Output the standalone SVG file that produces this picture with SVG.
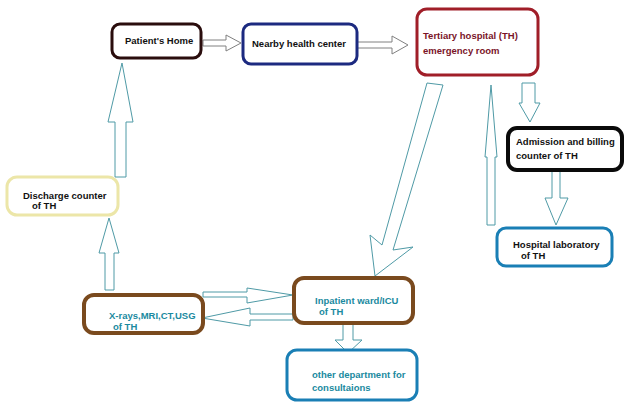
<svg xmlns="http://www.w3.org/2000/svg" width="629" height="404" viewBox="0 0 629 404">
<style>
.box{fill:#fff;}
.t{font-family:"Liberation Sans",Arial,sans-serif;font-weight:bold;font-size:9.5px;}
.dark{fill:#111;}
.red{fill:#7a1428;}
.teal{fill:#1a8aa0;}
.ag{fill:#fff;stroke:#808080;stroke-width:1;}
.at{fill:#fff;stroke:#4f9aa6;stroke-width:1;}
</style>
<rect width="629" height="404" fill="#fff"/>
<g id="connectors">
  <polygon class="ag" points="203,40 226,40 226,35 241,43 226,51 226,46 203,46"/>
  <polygon class="ag" points="357,42 392,42 392,36 408,45 392,54 392,48 357,48"/>
  <polygon class="at" points="427,83 443,85 393,250 413,247 375,276 370,235 382,245"/>
  <polygon class="at" points="522,83 535,83 535,103 540,103 530,122 519,103 522,103"/>
  <polygon class="at" points="487,225 495,225 495,157 497,157 491,85 485,157 487,157"/>
  <polygon class="at" points="552,170 560,170 560,198 568,198 556,225 545,198 552,198"/>
  <polygon class="at" points="115,177 126,177 126,122 133,122 122,63 108,122 115,122"/>
  <polygon class="at" points="105,290 114,290 114,253 119,253 109,218 99,253 105,253"/>
  <polygon class="at" points="203,292 247,292 247,288 293,295 247,303 247,297 203,297"/>
  <polygon class="at" points="293,314 250,314 250,308 202,318 250,326 250,320 293,320"/>
  <polygon class="at" points="343,323 353,323 353,340 362,340 348,353 335,340 343,340"/>
</g>
<g id="patients-home">
  <rect class="box" x="112" y="24" width="89" height="34" rx="8" stroke="#2a0d0d" stroke-width="3"/>
  <text class="t dark" x="125" y="44">Patient's Home</text>
</g>
<g id="nearby-health-center">
  <rect class="box" x="243" y="24" width="114" height="40" rx="8" stroke="#1c2a80" stroke-width="3"/>
  <text class="t dark" x="252" y="47">Nearby health center</text>
</g>
<g id="tertiary-hospital">
  <rect class="box" x="417" y="9" width="121" height="66" rx="10" stroke="#a01e28" stroke-width="3"/>
  <text class="t red" x="423" y="39">Tertiary hospital (TH)</text>
  <text class="t red" x="423" y="54">emergency room</text>
</g>
<g id="admission-billing">
  <rect class="box" x="508" y="128" width="114" height="42" rx="9" stroke="#0a0a0a" stroke-width="4"/>
  <text class="t dark" x="516" y="145">Admission and billing</text>
  <text class="t dark" x="516" y="159">counter   of TH</text>
</g>
<g id="hospital-laboratory">
  <rect class="box" x="497" y="228" width="115" height="38" rx="9" stroke="#1a7fb5" stroke-width="3"/>
  <text class="t dark" x="513" y="248">Hospital laboratory</text>
  <text class="t dark" x="521" y="259">of TH</text>
</g>
<g id="discharge-counter">
  <rect class="box" x="7" y="177" width="111" height="38" rx="10" stroke="#ece6a8" stroke-width="3"/>
  <text class="t dark" x="23" y="199">Discharge counter</text>
  <text class="t dark" x="32" y="209">of TH</text>
</g>
<g id="xrays">
  <rect class="box" x="84" y="295" width="119" height="38" rx="10" stroke="#7a4a1e" stroke-width="4"/>
  <text class="t teal" x="109" y="319">X-rays,MRI,CT,USG</text>
  <text class="t teal" x="113" y="330">of TH</text>
</g>
<g id="inpatient-ward">
  <rect class="box" x="294" y="278" width="119" height="45" rx="10" stroke="#7a4a1e" stroke-width="4"/>
  <text class="t teal" x="315" y="304">Inpatient ward/ICU</text>
  <text class="t teal" x="319" y="315">of TH</text>
</g>
<g id="other-department">
  <rect class="box" x="287" y="350" width="130" height="50" rx="10" stroke="#1a7fb5" stroke-width="3"/>
  <text class="t teal" x="312" y="378">other department for</text>
  <text class="t teal" x="312" y="391">consultaions</text>
</g>
</svg>
